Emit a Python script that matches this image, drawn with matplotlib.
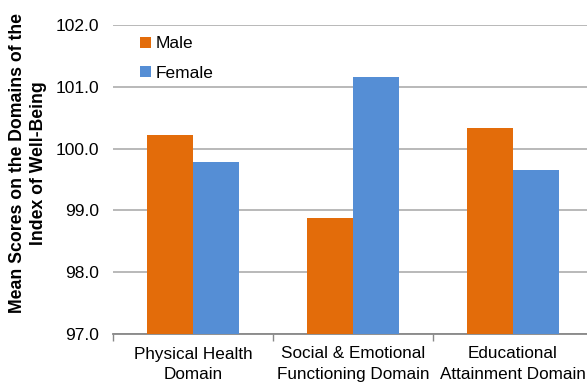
import matplotlib.pyplot as plt
import numpy as np

plt.rcParams['font.family'] = ['Liberation Sans', 'DejaVu Sans']

categories = ["Physical Health\nDomain", "Social & Emotional\nFunctioning Domain", "Educational\nAttainment Domain"]
male = [100.22, 98.87, 100.33]
female = [99.78, 101.16, 99.65]
yticks = [97.0, 98.0, 99.0, 100.0, 101.0, 102.0]

orange = "#E36C0A"
blue = "#558ED5"

fig = plt.figure(figsize=(5.87, 3.91), dpi=100)
ax = fig.add_axes([113/587, 57/391, 480/587, 309/391])

x = np.arange(len(categories))
w = 0.285
ax.bar(x - w/2, male, w, color=orange, label="Male", zorder=3)
ax.bar(x + w/2, female, w, color=blue, label="Female", zorder=3)

ax.set_xlim(-0.5, 2.5)
ax.set_ylim(97, 102)
ax.set_yticks(yticks)
ax.set_yticklabels([f"{v:.1f}" for v in yticks], fontsize=12.5)
ax.yaxis.grid(True, color="#A6A6A6", linewidth=1.1, zorder=0)
ax.tick_params(axis="y", length=0, pad=10)

ax.set_xticks(x)
ax.set_xticklabels(categories, fontsize=12.3, linespacing=1.45)
ax.set_xticks([-0.5, 0.5, 1.5, 2.5], minor=True)
ax.tick_params(axis="x", which="major", length=0, pad=9)
ax.tick_params(axis="x", which="minor", length=5, color="#888888", width=1)

for s in ["top", "right", "left"]:
    ax.spines[s].set_visible(False)
ax.spines["bottom"].set_color("#888888")
ax.spines["bottom"].set_linewidth(1.3)

fig.text(28/587, 1 - 163/391, "Mean Scores on the Domains of the\nIndex of Well-Being",
         fontsize=12.7, fontweight="bold", rotation=90, ha="center", va="center",
         multialignment="center", linespacing=1.3)

ax.legend(loc="upper left", bbox_to_anchor=(128/587, 1 - 24/391), bbox_transform=fig.transFigure,
          frameon=False, fontsize=12.5, handlelength=0.6, handleheight=0.6,
          handletextpad=0.3, labelspacing=0.85, borderpad=0.2)

fig.savefig("out.png", dpi=100)
